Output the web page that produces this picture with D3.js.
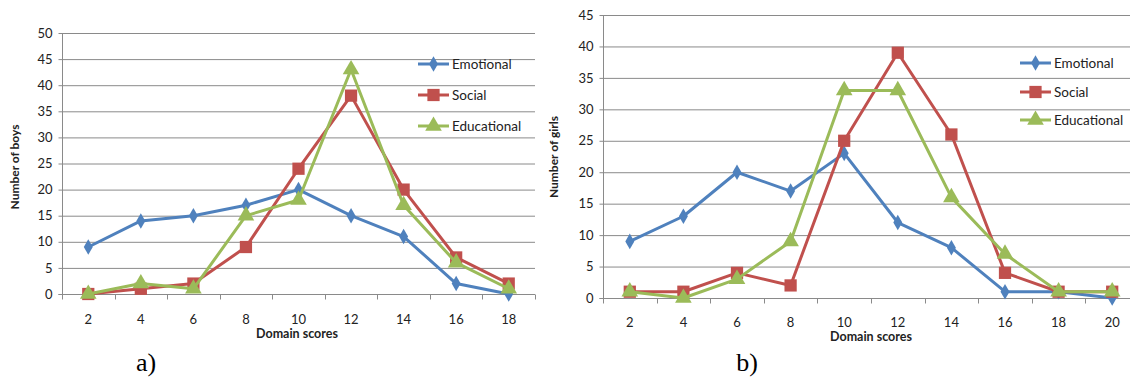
<!DOCTYPE html>
<html><head><meta charset="utf-8">
<script src="https://cdn.jsdelivr.net/npm/d3@7"></script>
<style>body{margin:0;background:#fff;} svg{display:block;}</style>
</head><body>
<svg id="c" width="1130" height="377"></svg>
<script>
const seriesNames = ["Emotional", "Social", "Educational"];
const colors = ["#4F81BD", "#C0504D", "#9BBB59"];

const catsA = [2,4,6,8,10,12,14,16,18];
const emotionalA = [9,14,15,17,20,15,11,2,0];
const socialA = [0,1,2,9,24,38,20,7,2];
const educationalA = [0,2,1,15,18,43,17,6,1];
const yTicksA = [0,5,10,15,20,25,30,35,40,45,50];

const catsB = [2,4,6,8,10,12,14,16,18,20];
const emotionalB = [9,13,20,17,23,12,8,1,1,0];
const socialB = [1,1,4,2,25,39,26,4,1,1];
const educationalB = [1,0,3,9,33,33,16,7,1,1];
const yTicksB = [0,5,10,15,20,25,30,35,40,45];

const svg = d3.select("#c");
const FONT = "Lato, 'Open Sans', sans-serif";

function drawChart(cfg) {
  const g = svg.append("g");
  const x = d3.scaleBand().domain(cfg.cats).range([cfg.x0, cfg.x1]);
  const y = d3.scaleLinear().domain([0, cfg.yMax]).range([cfg.y0, cfg.y1]);
  g.selectAll(".grid").data(cfg.yTicks).enter().append("line")
    .attr("x1", cfg.x0).attr("x2", cfg.gridEnd)
    .attr("y1", d => y(d) + 0.5).attr("y2", d => y(d) + 0.5)
    .attr("stroke", "#8a8a8a").attr("stroke-width", 1);
  const ya = d3.axisLeft(y).tickValues(cfg.yTicks).tickSize(4).tickPadding(6);
  const yg = g.append("g").attr("transform", `translate(${cfg.x0 + 0.5},0)`).call(ya);
  yg.select(".domain").attr("stroke", "#8a8a8a").attr("d", `M-4,${y(0)+0.5}H0V${y(cfg.yMax)}`);
  yg.selectAll(".tick line").attr("stroke", "#8a8a8a");
  yg.selectAll("text").attr("font-family", FONT).attr("font-size", 13).attr("fill", "#222");
  const xg = g.append("g").attr("transform", `translate(0,${cfg.y0 + 0.5})`);
  xg.append("line").attr("x1", cfg.x0).attr("x2", cfg.gridEnd).attr("stroke", "#8a8a8a");
  const bounds = d3.range(cfg.cats.length + 1).map(i => cfg.x0 + i * x.bandwidth());
  xg.selectAll(".tk").data(bounds).enter().append("line")
    .attr("x1", d => Math.round(d) + 0.5).attr("x2", d => Math.round(d) + 0.5)
    .attr("y1", 0).attr("y2", 5).attr("stroke", "#8a8a8a");
  xg.selectAll(".lbl").data(cfg.cats).enter().append("text")
    .attr("x", d => x(d) + x.bandwidth() / 2).attr("y", cfg.xLabelY - cfg.y0)
    .attr("text-anchor", "middle").attr("dominant-baseline", "central")
    .attr("font-family", FONT).attr("font-size", 13).attr("fill", "#222").text(d => d);
  g.append("text").attr("x", cfg.xTitleX).attr("y", cfg.xTitleY).attr("text-anchor", "middle")
    .attr("dominant-baseline", "central").attr("font-family", FONT).attr("font-size", 12.5)
    .attr("font-weight", "bold").attr("fill", "#222").text("Domain scores");
  g.append("text").attr("transform", `translate(${cfg.yTitleX},${cfg.yTitleY}) rotate(-90)`)
    .attr("text-anchor", "middle").attr("dominant-baseline", "central").attr("font-family", FONT)
    .attr("font-size", 12).attr("font-weight", "bold").attr("fill", "#222").text(cfg.yTitle);
  const cx = d => x(d) + x.bandwidth() / 2;
  const line = d3.line().x(d => cx(d[0])).y(d => y(d[1]));
  const shapes = [d3.symbolDiamond, d3.symbolSquare, d3.symbolTriangle];
  const sizes = [70, 150, 120];
  cfg.series.forEach((vals, i) => {
    const pts = cfg.cats.map((c, j) => [c, vals[j]]);
    g.append("path").attr("d", line(pts)).attr("fill", "none")
      .attr("stroke", colors[i]).attr("stroke-width", 3).attr("stroke-linejoin", "round");
    g.selectAll(".m" + i).data(pts).enter().append("path")
      .attr("d", d3.symbol().type(shapes[i]).size(sizes[i]))
      .attr("transform", d => `translate(${cx(d[0])},${y(d[1])})`)
      .attr("fill", colors[i]);
  });
  seriesNames.forEach((n, i) => {
    const ly = cfg.legY[i];
    g.append("line").attr("x1", cfg.legX).attr("x2", cfg.legX + 31).attr("y1", ly).attr("y2", ly)
      .attr("stroke", colors[i]).attr("stroke-width", 3);
    g.append("path").attr("d", d3.symbol().type(shapes[i]).size(sizes[i]))
      .attr("transform", `translate(${cfg.legX + 15.5},${ly})`).attr("fill", colors[i]);
    g.append("text").attr("x", cfg.legX + 34).attr("y", ly).attr("dominant-baseline", "central")
      .attr("font-family", FONT).attr("font-size", 13.5).attr("fill", "#222").text(n);
  });
  g.append("text").attr("x", cfg.panelX).attr("y", 362).attr("text-anchor", "middle")
    .attr("dominant-baseline", "central").attr("font-family", "'Liberation Serif', serif")
    .attr("font-size", 26).attr("fill", "#000").text(cfg.panel);
}

drawChart({
  cats: catsA, series: [emotionalA, socialA, educationalA], yTicks: yTicksA, yMax: 50,
  x0: 62, x1: 535, gridEnd: 535, y0: 294, y1: 33, xLabelY: 318, xTitleX: 297, xTitleY: 333,
  yTitle: "Number of boys", yTitleX: 14, yTitleY: 167,
  legX: 418, legY: [64, 95, 126], panel: "a)", panelX: 146
});
drawChart({
  cats: catsB, series: [emotionalB, socialB, educationalB], yTicks: yTicksB, yMax: 45,
  x0: 603, x1: 1139, gridEnd: 1139, y0: 298, y1: 15, xLabelY: 321, xTitleX: 871, xTitleY: 336,
  yTitle: "Number of girls", yTitleX: 553, yTitleY: 157,
  legX: 1020, legY: [63, 92, 120], panel: "b)", panelX: 747
});
</script>
</body></html>
